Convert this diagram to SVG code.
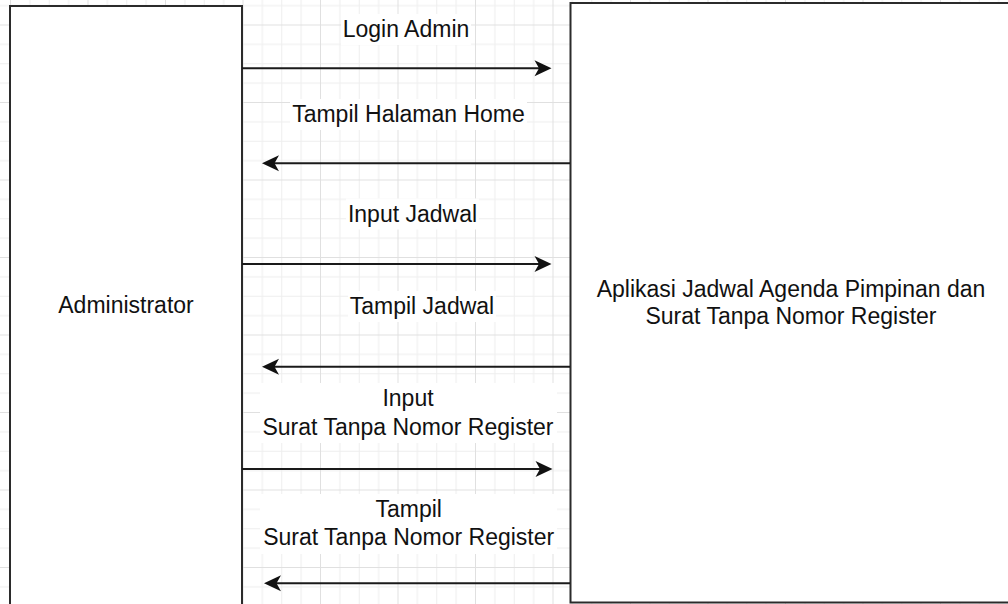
<svg xmlns="http://www.w3.org/2000/svg" width="1008" height="604" viewBox="0 0 1008 604">
<defs>
<pattern id="grid" patternUnits="userSpaceOnUse" x="10" y="24.5" width="77.5" height="77.5">
<path d="M19.875 0V77.5M39.25 0V77.5M58.625 0V77.5M0 19.875H77.5M0 39.25H77.5M0 58.625H77.5" stroke="#eeeeee" stroke-width="1" fill="none"/>
<path d="M0.5 0V77.5M0 0.5H77.5" stroke="#e0e0e0" stroke-width="1" fill="none"/>
</pattern>
<marker id="arr" markerUnits="userSpaceOnUse" viewBox="-14 -9 19 18" markerWidth="19" markerHeight="18" refX="0" refY="0" orient="auto">
<path d="M4,0 L-13,-8 L-8.5,0 L-13,8 Z" fill="#111"/>
</marker>
</defs>
<style>
.box{fill:#fff;stroke:#2b2b2b;stroke-width:2}
.lbl{font-family:"Liberation Sans",Arial,sans-serif;font-size:23px;fill:#111;text-anchor:middle}
.bg{fill:#fff}
.edge{stroke:#1a1a1a;stroke-width:2;fill:none;marker-end:url(#arr)}
</style>
<rect width="1008" height="604" fill="#fff"/>
<rect width="1008" height="604" fill="url(#grid)"/>
<g id="admin">
<rect class="box" x="10" y="6" width="232" height="620"/>
<text class="lbl" x="126" y="313">Administrator</text>
</g>
<g id="app">
<rect class="box" x="570.5" y="3" width="450" height="599.5"/>
<text class="lbl" x="791" y="296.7">Aplikasi Jadwal Agenda Pimpinan dan</text>
<text class="lbl" x="791" y="324.3">Surat Tanpa Nomor Register</text>
</g>
<g id="connectors">
<path class="edge" d="M242 68.3H547.5"/>
<path class="edge" d="M570 163.3H266"/>
<path class="edge" d="M242 264H547.5"/>
<path class="edge" d="M570 366.7H266"/>
<path class="edge" d="M242 469H548.5"/>
<path class="edge" d="M570 583.3H268"/>
</g>
<g id="labels">
<g id="lbl-login"><rect class="bg" x="341" y="14" width="130" height="31"/><text class="lbl" x="406" y="37">Login Admin</text></g>
<g id="lbl-home"><rect class="bg" x="290" y="99" width="237" height="31"/><text class="lbl" x="408.5" y="122">Tampil Halaman Home</text></g>
<g id="lbl-inputjadwal"><rect class="bg" x="346" y="198.5" width="133" height="31"/><text class="lbl" x="412.5" y="221.5">Input Jadwal</text></g>
<g id="lbl-tampiljadwal"><rect class="bg" x="348" y="291" width="148" height="31"/><text class="lbl" x="422" y="314">Tampil Jadwal</text></g>
<g id="lbl-inputsurat"><rect class="bg" x="260" y="383" width="297" height="60"/><text class="lbl" x="408" y="406">Input</text><text class="lbl" x="408" y="435">Surat Tanpa Nomor Register</text></g>
<g id="lbl-tampilsurat"><rect class="bg" x="260" y="494" width="297" height="60"/><text class="lbl" x="408.7" y="517.3">Tampil</text><text class="lbl" x="408.7" y="545.3">Surat Tanpa Nomor Register</text></g>
</g>
</svg>
